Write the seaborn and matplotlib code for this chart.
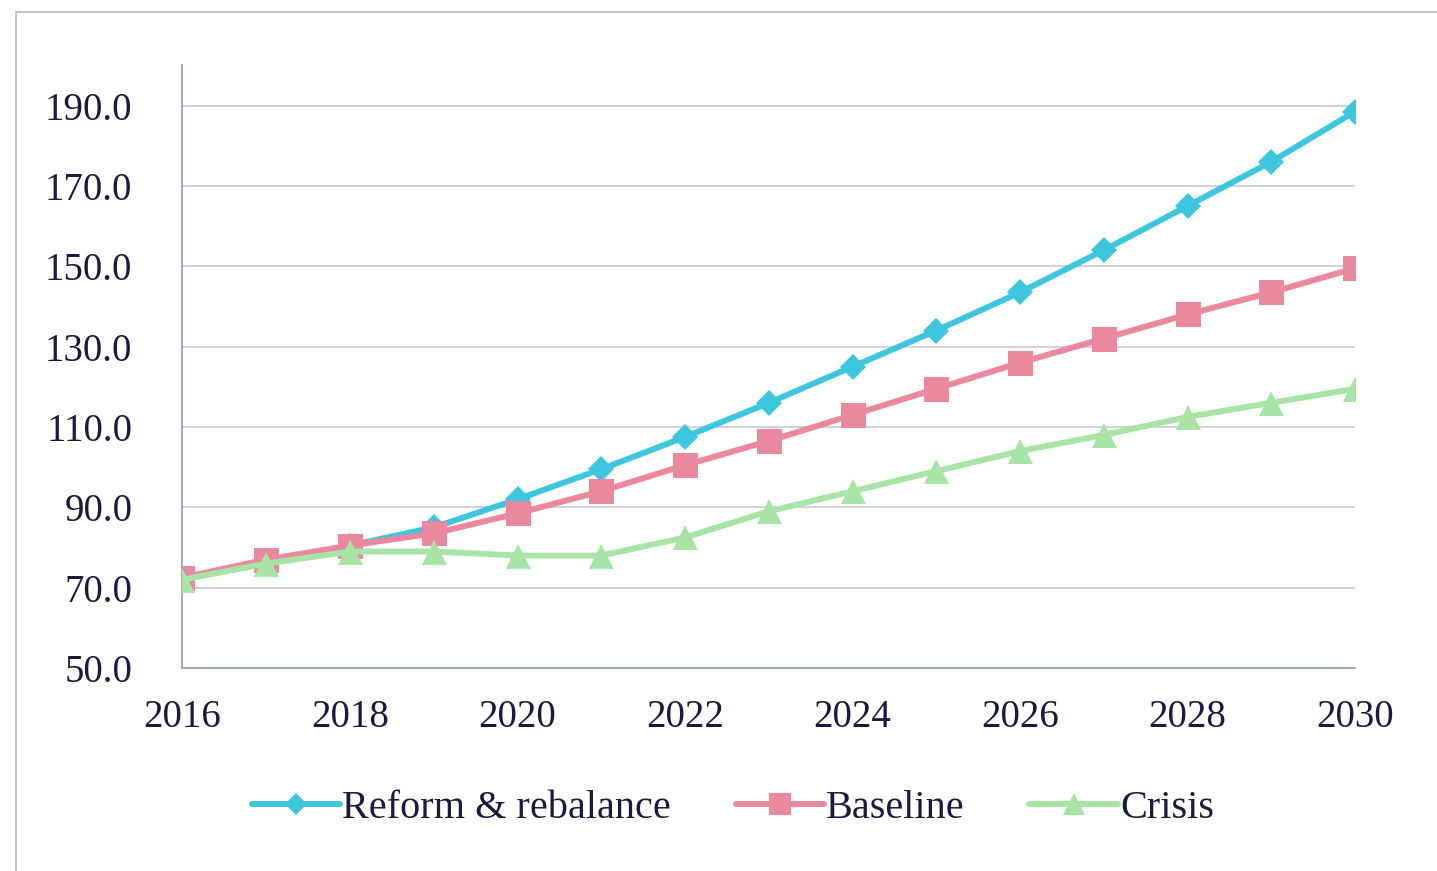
import matplotlib
matplotlib.use("Agg")
import matplotlib.pyplot as plt
import seaborn as sns
import pandas as pd
from matplotlib.patches import Rectangle

years = list(range(2016, 2031))
reform = [72.5, 76.0, 80.5, 85.0, 92.0, 99.5, 107.5, 116.0, 125.0, 134.0, 143.5, 154.0, 165.0, 176.0, 188.5]
baseline = [72.5, 77.0, 80.5, 83.5, 88.5, 94.0, 100.5, 106.5, 113.0, 119.5, 126.0, 132.0, 138.0, 143.5, 149.5]
crisis = [72.0, 76.0, 79.0, 79.0, 78.0, 78.0, 82.5, 89.0, 94.0, 99.0, 104.0, 108.0, 112.5, 116.0, 119.5]
names = ["Reform & rebalance", "Baseline", "Crisis"]
yticks = [50, 70, 90, 110, 130, 150, 170, 190]
xticks = list(range(2016, 2031, 2))

df = pd.DataFrame({
    "year": years * 3,
    "value": reform + baseline + crisis,
    "scenario": [names[0]] * 15 + [names[1]] * 15 + [names[2]] * 15,
})

sns.set_style("white")
plt.rcParams["font.family"] = ["Liberation Serif", "DejaVu Serif"]

fig = plt.figure(figsize=(14.37, 8.71), dpi=100)
ax = fig.add_axes([0.127, 0.233, 0.816, 0.692])

palette = {names[0]: "#3ec6df", names[1]: "#ea889e", names[2]: "#a8e4a6"}
markers = {names[0]: "D", names[1]: "s", names[2]: "^"}
sizes = {names[0]: 13, names[1]: 18, names[2]: 18}

for name in names:
    sub = df[df["scenario"] == name]
    sns.lineplot(data=sub, x="year", y="value", ax=ax, color=palette[name],
                 marker=markers[name], markersize=sizes[name], linewidth=4.3,
                 markeredgewidth=0, label=name, zorder=3)

ax.set_xlim(2016, 2030)
ax.set_ylim(50, 200)
ax.set_yticks(yticks)
ax.set_yticklabels([f"{v:.1f}" for v in yticks])
ax.set_xticks(xticks)
ax.set_xlabel("")
ax.set_ylabel("")
ax.yaxis.grid(True, color="#c9c9d6", linewidth=1.2)
ax.set_axisbelow(True)
for s in ["top", "right"]:
    ax.spines[s].set_visible(False)
for s in ["left", "bottom"]:
    ax.spines[s].set_color("#9aa0c8")
    ax.spines[s].set_linewidth(1.3)
ax.tick_params(axis="both", which="both", direction="out", length=6,
               color="#9aa0c8", labelsize=28, labelcolor="#1a1a40")
ax.tick_params(axis="y", pad=30)
ax.tick_params(axis="x", pad=16)

ax.legend(loc="center", bbox_to_anchor=(0.51, 0.072), bbox_transform=fig.transFigure,
          ncol=3, frameon=False, fontsize=29, handlelength=2.2, columnspacing=1.6,
          handletextpad=0.05, labelcolor="#1a1a40", markerscale=0.9)

fig.patches.append(Rectangle((0.011, -0.01), 0.99, 0.996, transform=fig.transFigure,
                             fill=False, edgecolor="#b8bcc8", linewidth=1.2))

fig.savefig("out.png", dpi=100)
